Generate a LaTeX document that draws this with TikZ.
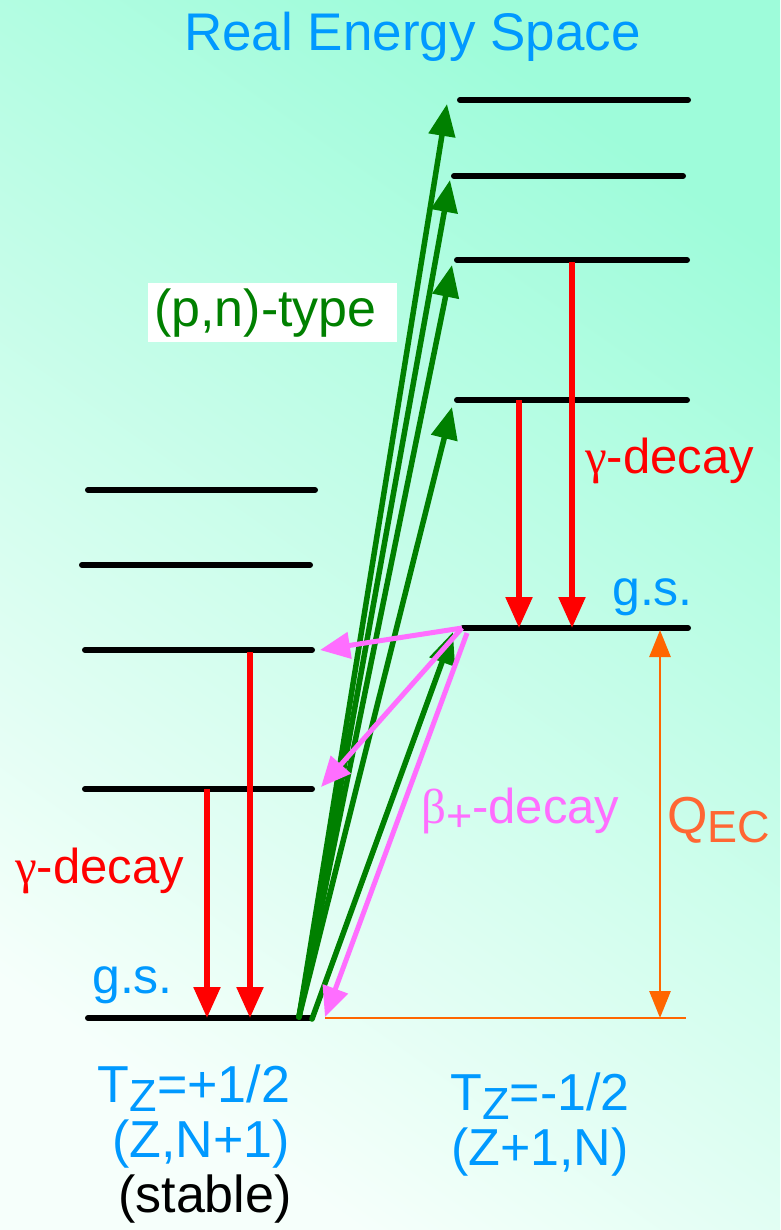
\documentclass[tikz,border=0pt]{standalone}
\usepackage{fontspec}
\setmainfont{Liberation Sans}
\newfontfamily\greekfont{Liberation Serif}
\definecolor{BgMint}{RGB}{158,252,218}
\definecolor{BgPale}{RGB}{246,255,251}
\definecolor{TitleBlue}{RGB}{0,153,255}
\definecolor{GammaRed}{RGB}{255,0,0}
\definecolor{PnGreen}{RGB}{0,128,0}
\definecolor{BetaPink}{RGB}{255,110,255}
\definecolor{QOrange}{RGB}{255,102,0}
\definecolor{QText}{RGB}{255,102,51}
\usetikzlibrary{arrows.meta,positioning}
\newcommand{\lowsub}[1]{\raisebox{-0.18em}{\fontsize{45}{50}\selectfont #1}}

\begin{document}
\begin{tikzpicture}[x=1pt,y=-1pt,
  font=\fontsize{52}{55}\selectfont,
  lvl/.style={line width=6pt,line cap=round},
  gam/.style={GammaRed,line width=5.5pt,-{Triangle[length=31pt,width=26pt]}},
  pn/.style={PnGreen,line width=5.5pt,line cap=round,-{Triangle[length=32pt,width=26pt]}},
  betaarr/.style={BetaPink,line width=5pt,-{Triangle[length=30pt,width=26pt]}},
  qarr/.style={QOrange,line width=2.8pt},
  lbl/.style={anchor=base west,inner sep=0pt},
  decaylbl/.style={lbl,font=\fontsize{49}{55}\selectfont}]
% background
\shade[top color=BgMint,middle color=BgMint!80!BgPale,bottom color=BgPale,shading angle=-35] (0,0) rectangle (780,1230);
% left levels, Tz=+1/2
\coordinate (l1w) at (88,490);  \coordinate (l1e) at (315,490);
\coordinate (l2w) at (82,565);  \coordinate (l2e) at (310,565);
\coordinate (l3w) at (85,650);  \coordinate (l3e) at (312,650);
\coordinate (l4w) at (85,789);  \coordinate (l4e) at (312,789);
\coordinate (lgw) at (88,1018); \coordinate (lge) at (310,1018);
\foreach \n in {l1,l2,l3,l4,lg} \draw[lvl] (\n w) -- (\n e);
% right levels, Tz=-1/2
\coordinate (r1w) at (460,100); \coordinate (r1e) at (688,100);
\coordinate (r2w) at (454,176); \coordinate (r2e) at (683,176);
\coordinate (r3w) at (457,260); \coordinate (r3e) at (687,260);
\coordinate (r4w) at (457,400); \coordinate (r4e) at (687,400);
\coordinate (rgw) at (463,628); \coordinate (rge) at (688,628);
\foreach \n in {r1,r2,r3,r4,rg} \draw[lvl] (\n w) -- (\n e);
% gamma decays
\coordinate (ga) at (519,400);  \coordinate (gaend) at (519,628);
\coordinate (gb) at (572,262);  \coordinate (gbend) at (572,628);
\coordinate (gc) at (207,789);  \coordinate (gcend) at (207,1018);
\coordinate (gd) at (250,652);  \coordinate (gdend) at (250,1018);
\draw[gam] (ga) -- (gaend);
\draw[gam] (gb) -- (gbend);
\draw[gam] (gc) -- (gcend);
\draw[gam] (gd) -- (gdend);
% (p,n)-type excitations
\coordinate (bundle) at (299,1017);
\coordinate (pnA) at (447,104);
\coordinate (pnB) at (450,180);
\coordinate (pnC) at (452,265);
\coordinate (pnD) at (452,407);
\foreach \t in {pnA,pnB,pnC,pnD} \draw[pn] (bundle) -- (\t);
\coordinate (gsfoot) at (312,1019); \coordinate (pnE) at (453,632);
\draw[pn] (gsfoot) -- (pnE);
% beta+ decays
\coordinate (bsrc) at (462,628);
\coordinate (bA) at (320,650);
\coordinate (bB) at (321,787);
\coordinate (bsrc2) at (467,633); \coordinate (bC) at (325,1017);
\draw[betaarr] (bsrc) -- (bA);
\draw[betaarr] (bsrc) -- (bB);
\draw[betaarr] (bsrc2) -- (bC);
% Q_EC
\coordinate (qw) at (325,1018); \coordinate (qe) at (686,1018);
\coordinate (qtop) at (660,630); \coordinate (qbot) at (660,1018);
\draw[qarr] (qw) -- (qe);
\draw[qarr,{Triangle[length=27pt,width=21pt]}-{Triangle[length=27pt,width=21pt]}] (qtop) -- (qbot);
% labels
\node[lbl,TitleBlue,font=\fontsize{53}{60}\selectfont] (title) at (184,51) {Real Energy Space};
\node[anchor=north west,fill=white,inner ysep=0pt,inner xsep=6pt,text width=237pt,minimum height=59pt,text=PnGreen] (pnlbl) at (148,283) {(p,n)-type};
\node[decaylbl,GammaRed] (gamR) at (585,473) {{\greekfont γ}-decay};
\node[decaylbl,GammaRed] (gamL) at (15,883) {{\greekfont γ}-decay};
\node[lbl,TitleBlue,font=\fontsize{50}{56}\selectfont] (gsR) at (612,605) {g.s.};
\node[lbl,TitleBlue,font=\fontsize{50}{56}\selectfont] (gsL) at (92,993) {g.s.};
\node[decaylbl,BetaPink] (betalbl) at (421,823) {{\greekfont β}\lowsub{+}-decay};
\node[lbl,QText] (qlbl) at (667,833) {Q\lowsub{EC}};
\node[anchor=base,inner sep=0pt,align=center,text=TitleBlue] (left) at (194,1212) {T\lowsub{Z}=+1/2\\ \hspace*{14pt}(Z,N+1)\\ \hspace*{22pt}\color{black}(stable)};
\node[anchor=base,inner sep=0pt,align=center,text=TitleBlue] (right) at (540,1165) {T\lowsub{Z}=-1/2\\ (Z+1,N)};
\end{tikzpicture}
\end{document}
